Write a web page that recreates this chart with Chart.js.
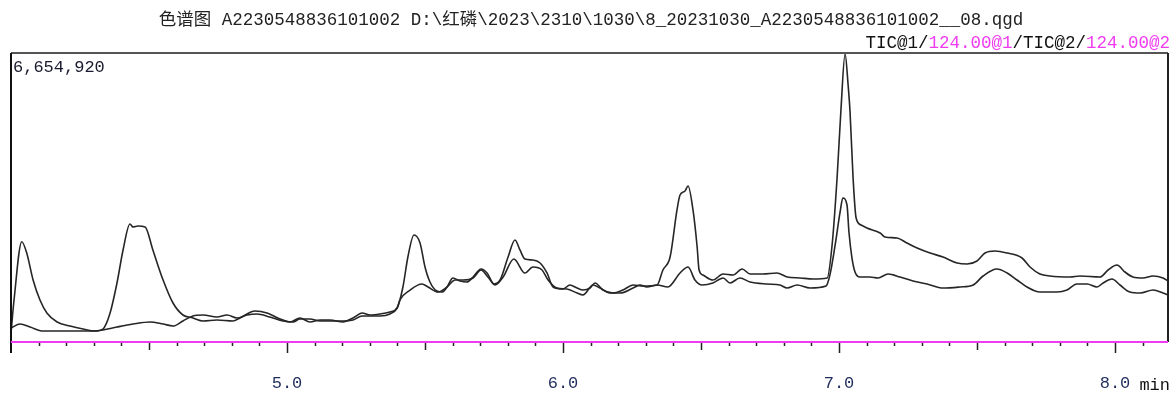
<!DOCTYPE html>
<html>
<head>
<meta charset="utf-8">
<title>色谱图</title>
<script src="https://cdn.jsdelivr.net/npm/chart.js@4.4.1/dist/chart.umd.min.js"></script>
<style>
  html, body { margin: 0; padding: 0; background: #ffffff; }
  #wrap { width: 1171px; height: 394px; }
</style>
</head>
<body>
<div id="wrap"><canvas id="chrom" width="1171" height="394"></canvas></div>
<script>
// Retention time (min) and intensity for trace 1
const time1 = [4.000, 4.011, 4.039, 4.057, 4.080, 4.105, 4.130, 4.167, 4.214, 4.261, 4.304, 4.333, 4.359, 4.384, 4.406, 4.431, 4.442, 4.460, 4.486, 4.514, 4.551, 4.587, 4.623, 4.659, 4.696, 4.746, 4.804, 4.830, 4.884, 4.928, 4.975, 5.011, 5.047, 5.083, 5.120, 5.156, 5.203, 5.239, 5.272, 5.301, 5.337, 5.373, 5.399, 5.420, 5.438, 5.460, 5.482, 5.500, 5.518, 5.543, 5.562, 5.580, 5.601, 5.627, 5.652, 5.674, 5.703, 5.725, 5.750, 5.772, 5.801, 5.826, 5.844, 5.862, 5.891, 5.917, 5.942, 5.964, 6.000, 6.025, 6.051, 6.072, 6.098, 6.116, 6.145, 6.181, 6.217, 6.254, 6.290, 6.341, 6.362, 6.388, 6.413, 6.424, 6.442, 6.453, 6.471, 6.486, 6.493, 6.507, 6.543, 6.580, 6.616, 6.649, 6.678, 6.725, 6.775, 6.812, 6.859, 6.906, 6.957, 6.975, 6.993, 7.007, 7.022, 7.033, 7.040, 7.051, 7.062, 7.080, 7.101, 7.149, 7.167, 7.210, 7.246, 7.283, 7.330, 7.377, 7.428, 7.464, 7.500, 7.529, 7.565, 7.609, 7.663, 7.692, 7.728, 7.764, 7.837, 7.873, 7.946, 7.975, 8.007, 8.036, 8.065, 8.101, 8.138, 8.174, 8.192];
const tic1 = [207000, 967000, 2310000, 2049000, 1428000, 967000, 668000, 461000, 368000, 299000, 253000, 299000, 668000, 1359000, 2119000, 2717000, 2648000, 2671000, 2648000, 2119000, 1428000, 898000, 622000, 553000, 484000, 507000, 484000, 553000, 714000, 668000, 530000, 461000, 553000, 461000, 507000, 507000, 461000, 553000, 668000, 622000, 645000, 691000, 783000, 1267000, 1957000, 2464000, 2280000, 1727000, 1382000, 1174000, 1151000, 1267000, 1474000, 1405000, 1382000, 1497000, 1681000, 1589000, 1336000, 1428000, 1957000, 2349000, 2119000, 1911000, 1888000, 1819000, 1589000, 1267000, 1220000, 1313000, 1243000, 1197000, 1243000, 1359000, 1197000, 1128000, 1197000, 1313000, 1290000, 1313000, 1658000, 1957000, 3040000, 3385000, 3477000, 3592000, 3040000, 2188000, 1658000, 1543000, 1428000, 1566000, 1543000, 1681000, 1566000, 1566000, 1589000, 1497000, 1474000, 1451000, 1474000, 2234000, 3776000, 5342000, 6632000, 5918000, 5296000, 3776000, 2855000, 2694000, 2625000, 2510000, 2418000, 2395000, 2280000, 2165000, 2049000, 1957000, 1819000, 1796000, 1865000, 2049000, 2096000, 2049000, 1934000, 1727000, 1566000, 1520000, 1497000, 1520000, 1497000, 1658000, 1773000, 1612000, 1497000, 1474000, 1520000, 1474000, 1405000];

// Retention time (min) and intensity for trace 2
const time2 = [4.000, 4.033, 4.069, 4.116, 4.203, 4.297, 4.333, 4.384, 4.442, 4.504, 4.551, 4.587, 4.623, 4.659, 4.696, 4.746, 4.783, 4.819, 4.855, 4.891, 4.938, 4.986, 5.022, 5.047, 5.083, 5.120, 5.156, 5.203, 5.239, 5.272, 5.301, 5.337, 5.373, 5.399, 5.409, 5.446, 5.489, 5.511, 5.547, 5.580, 5.609, 5.638, 5.674, 5.703, 5.728, 5.754, 5.783, 5.822, 5.862, 5.891, 5.924, 5.946, 5.978, 6.014, 6.051, 6.072, 6.109, 6.134, 6.170, 6.207, 6.254, 6.279, 6.304, 6.341, 6.380, 6.424, 6.453, 6.478, 6.504, 6.543, 6.580, 6.605, 6.641, 6.678, 6.739, 6.786, 6.812, 6.848, 6.895, 6.953, 6.967, 6.986, 7.004, 7.014, 7.029, 7.036, 7.047, 7.058, 7.076, 7.112, 7.141, 7.178, 7.221, 7.268, 7.319, 7.377, 7.438, 7.486, 7.522, 7.572, 7.609, 7.645, 7.681, 7.728, 7.790, 7.826, 7.862, 7.899, 7.935, 7.957, 7.989, 8.018, 8.054, 8.091, 8.138, 8.174, 8.192];
const tic2 = [322000, 414000, 345000, 253000, 253000, 253000, 276000, 345000, 414000, 461000, 414000, 368000, 484000, 599000, 622000, 576000, 622000, 553000, 622000, 645000, 576000, 484000, 461000, 530000, 530000, 484000, 484000, 484000, 507000, 599000, 599000, 599000, 645000, 783000, 967000, 1197000, 1336000, 1267000, 1151000, 1267000, 1428000, 1428000, 1474000, 1658000, 1497000, 1313000, 1497000, 1911000, 1589000, 1727000, 1658000, 1428000, 1243000, 1220000, 1128000, 1082000, 1313000, 1243000, 1128000, 1128000, 1243000, 1313000, 1267000, 1313000, 1267000, 1589000, 1727000, 1428000, 1313000, 1359000, 1474000, 1359000, 1474000, 1382000, 1336000, 1313000, 1243000, 1313000, 1243000, 1290000, 1543000, 2234000, 2994000, 3316000, 3155000, 2533000, 1934000, 1612000, 1497000, 1497000, 1474000, 1566000, 1497000, 1405000, 1336000, 1243000, 1267000, 1313000, 1520000, 1681000, 1589000, 1428000, 1267000, 1151000, 1151000, 1197000, 1336000, 1336000, 1267000, 1359000, 1451000, 1313000, 1151000, 1128000, 1197000, 1128000, 1082000];

// Axis ranges and labels
const timeRange = [4.0, 8.192];
const intensityMax = 6654920;
const majorTicks = [5.0, 6.0, 7.0, 8.0];
const majorTickLabels = ['5.0', '6.0', '7.0', '8.0'];

const titleText = '色谱图 A2230548836101002 D:\\红磷\\2023\\2310\\1030\\8_20231030_A2230548836101002__08.qgd';
const traceLegend = [
  ['TIC@1/', '#111111'],
  ['124.00@1', '#f03cf0'],
  ['/TIC@2/', '#111111'],
  ['124.00@2', '#f03cf0']
];
const intensityLabel = '6,654,920';
const unitLabel = 'min';

const MONO = '"Liberation Mono", "Noto Sans CJK SC", monospace';

function toPoints(xs, ys) {
  return xs.map((x, i) => ({ x: x, y: ys[i] }));
}

// Frame, tick marks and text drawn on top of the traces
const chromFrame = {
  id: 'chromFrame',
  afterDraw(chart) {
    const ctx = chart.ctx;
    const a = chart.chartArea;
    const xs = chart.scales.x;
    ctx.save();

    // top border
    ctx.strokeStyle = '#555555';
    ctx.lineWidth = 2;
    ctx.beginPath();
    ctx.moveTo(a.left, a.top);
    ctx.lineTo(a.right, a.top);
    ctx.stroke();

    // right border
    ctx.strokeStyle = '#222222';
    ctx.lineWidth = 2;
    ctx.beginPath();
    ctx.moveTo(a.right, a.top);
    ctx.lineTo(a.right, a.bottom);
    ctx.stroke();

    // left axis, running a little below the baseline
    ctx.strokeStyle = '#111111';
    ctx.beginPath();
    ctx.moveTo(a.left, a.top);
    ctx.lineTo(a.left, a.bottom + 11);
    ctx.stroke();

    // tick marks every 0.1 min, longer at half and whole minutes
    ctx.strokeStyle = '#222222';
    ctx.lineWidth = 1.5;
    for (let i = 41; i <= 81; i++) {
      const px = Math.round(xs.getPixelForValue(i / 10)) + 0.5;
      const len = (i % 10 === 0) ? 11 : (i % 5 === 0 ? 8 : 4);
      ctx.beginPath();
      ctx.moveTo(px, a.bottom);
      ctx.lineTo(px, a.bottom + len);
      ctx.stroke();
    }

    // baseline
    ctx.strokeStyle = '#f03cf0';
    ctx.lineWidth = 2;
    ctx.beginPath();
    ctx.moveTo(a.left, a.bottom);
    ctx.lineTo(a.right, a.bottom);
    ctx.stroke();

    // time labels
    ctx.font = '17px ' + MONO;
    ctx.fillStyle = '#1f2d5c';
    ctx.textAlign = 'center';
    ctx.textBaseline = 'middle';
    majorTicks.forEach((v, i) => {
      ctx.fillText(majorTickLabels[i], xs.getPixelForValue(v), a.bottom + 41);
    });

    // unit
    ctx.fillStyle = '#111111';
    ctx.textAlign = 'right';
    ctx.fillText(unitLabel, a.right + 2, a.bottom + 43);

    // full-scale intensity
    ctx.textAlign = 'left';
    ctx.fillStyle = '#1a1a2e';
    ctx.fillText(intensityLabel, a.left + 2, a.top + 14);

    // title line
    ctx.font = '17.5px ' + MONO;
    ctx.fillStyle = '#222222';
    ctx.textAlign = 'center';
    ctx.fillText(titleText, 591, 20);

    // trace line, right aligned, coloured by part
    ctx.font = '17.5px ' + MONO;
    ctx.textAlign = 'left';
    let total = 0;
    traceLegend.forEach(p => { total += ctx.measureText(p[0]).width; });
    let x = 1170 - total;
    traceLegend.forEach(p => {
      ctx.fillStyle = p[1];
      ctx.fillText(p[0], x, 43);
      x += ctx.measureText(p[0]).width;
    });

    ctx.restore();
  }
};

new Chart(document.getElementById('chrom'), {
  type: 'line',
  data: {
    datasets: [
      {
        label: 'TIC@1',
        data: toPoints(time1, tic1),
        borderColor: '#262626',
        borderWidth: 1.6,
        pointRadius: 0,
        cubicInterpolationMode: 'monotone',
        fill: false
      },
      {
        label: 'TIC@2',
        data: toPoints(time2, tic2),
        borderColor: '#262626',
        borderWidth: 1.6,
        pointRadius: 0,
        cubicInterpolationMode: 'monotone',
        fill: false
      }
    ]
  },
  options: {
    responsive: false,
    devicePixelRatio: 1,
    animation: false,
    layout: { padding: { left: 11, right: 3, top: 53, bottom: 52 } },
    plugins: {
      legend: { display: false },
      title: { display: false },
      tooltip: { enabled: false }
    },
    scales: {
      x: { type: 'linear', min: timeRange[0], max: timeRange[1], display: false },
      y: { type: 'linear', min: 0, max: intensityMax, display: false }
    }
  },
  plugins: [chromFrame]
});
</script>
</body>
</html>
